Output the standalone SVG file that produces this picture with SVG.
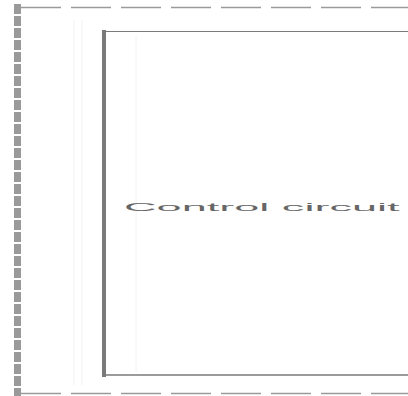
<svg xmlns="http://www.w3.org/2000/svg" width="408" height="396" viewBox="0 0 408 396">
<style>
.outer{fill:none;stroke:#9a9a9a}
.inner{fill:none;stroke:#7a7a7a}
.lbl{font-family:"Liberation Sans",Arial,sans-serif;font-size:11px;fill:#666}
.faint{stroke:#f2f2f2;stroke-width:1}
</style>
<rect width="408" height="396" fill="#ffffff"/>
<g id="frame">
<line class="outer" x1="17.5" y1="4" x2="17.5" y2="396" stroke-width="7" stroke-dasharray="10 2"/>
<line class="outer" x1="21" y1="7.5" x2="408" y2="7.5" stroke-width="1.5" stroke-dasharray="40 10"/>
<line class="outer" x1="21" y1="393.5" x2="408" y2="393.5" stroke-width="1.5" stroke-dasharray="40 10"/>
<line class="faint" x1="74" y1="20" x2="74" y2="385"/>
<line class="faint" x1="82" y1="20" x2="82" y2="385"/>
<line class="faint" x1="136" y1="36" x2="136" y2="372"/>
</g>
<g id="control-circuit">
<line class="inner" x1="104" y1="30" x2="104" y2="377" stroke-width="4"/>
<line class="inner" x1="102" y1="31.5" x2="408" y2="31.5" stroke-width="1.2"/>
<line class="inner" x1="102" y1="375" x2="408" y2="375" stroke-width="1.5"/>
<text class="lbl" transform="translate(124,211) scale(4.1,1)" x="0" y="0">Control circuit</text>
</g>
<g id="connectors"></g>
</svg>
